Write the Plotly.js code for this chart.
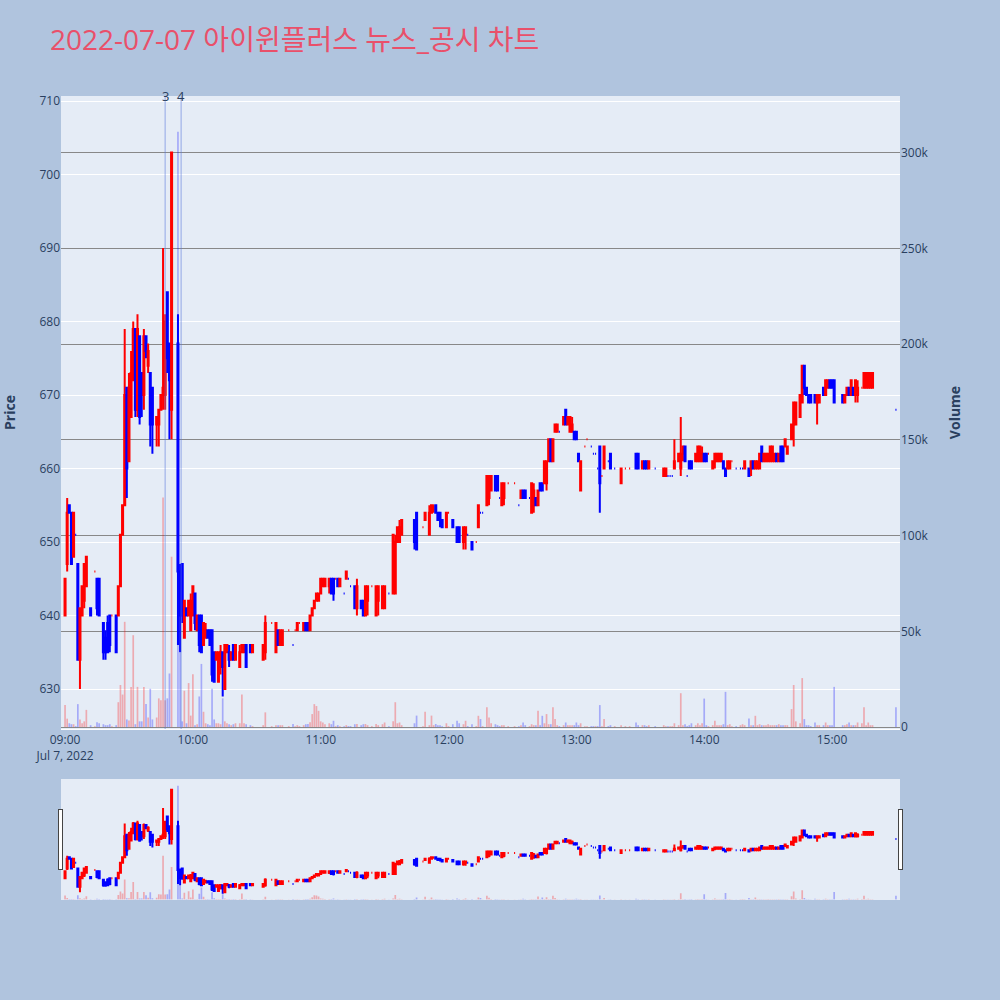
<!DOCTYPE html>
<html>
<head>
<meta charset="utf-8">
<script src="https://cdn.plot.ly/plotly-3.0.1.min.js"></script>
<style>html,body{margin:0;padding:0;background:#b0c4de;}#chart{width:1000px;height:1000px;}</style>
</head>
<body>
<div id="chart"></div>
<script>
const tradeDate = '2022-07-07';
const times = ['09:00','09:01','09:02','09:03','09:04','09:05','09:06','09:07','09:08','09:09','09:10','09:12','09:14','09:15','09:16','09:18','09:19','09:20','09:21','09:22','09:24','09:25','09:26','09:27','09:28','09:29','09:30','09:31','09:32','09:33','09:34','09:35','09:36','09:37','09:38','09:39','09:40','09:41','09:43','09:44','09:45','09:46','09:47','09:48','09:49','09:50','09:53','09:54','09:55','09:56','09:57','09:58','09:59',
'10:00','10:01','10:02','10:03','10:04','10:05','10:06','10:07','10:08','10:09','10:10','10:11','10:12','10:13','10:14','10:15','10:16','10:17','10:18','10:19','10:20','10:22','10:23','10:24','10:25','10:27','10:28','10:33','10:34','10:37','10:39','10:40','10:41','10:42','10:45','10:47','10:48','10:49','10:50','10:52','10:53','10:54','10:55','10:56','10:57','10:58','10:59',
'11:00','11:01','11:02','11:04','11:05','11:06','11:07','11:08','11:09','11:11','11:12','11:13','11:14','11:16','11:17','11:19','11:20','11:21','11:22','11:24','11:26','11:27','11:29','11:30','11:32','11:34','11:35','11:36','11:37','11:38','11:44','11:45','11:48','11:49','11:51','11:52','11:53','11:54','11:55','11:56','11:57','11:59',
'12:00','12:02','12:04','12:05','12:07','12:08','12:09','12:11','12:13','12:14','12:15','12:16','12:18','12:19','12:20','12:22','12:23','12:24','12:25','12:26','12:28','12:31','12:33','12:34','12:35','12:36','12:38','12:39','12:40','12:41','12:42','12:43','12:44','12:45','12:46','12:47','12:48','12:49','12:50','12:51','12:52','12:54','12:55','12:56','12:57','12:58','12:59',
'13:00','13:01','13:02','13:04','13:05','13:07','13:08','13:09','13:10','13:11','13:12','13:13','13:15','13:16','13:18','13:21','13:23','13:25','13:28','13:29','13:31','13:32','13:33','13:34','13:37','13:41','13:42','13:43','13:44','13:45','13:46','13:48','13:49','13:50','13:51','13:52','13:53','13:54','13:56','13:57','13:58','13:59',
'14:00','14:01','14:02','14:04','14:05','14:06','14:07','14:08','14:09','14:10','14:11','14:12','14:13','14:15','14:17','14:18','14:19','14:21','14:22','14:23','14:24','14:25','14:26','14:27','14:28','14:29','14:30','14:31','14:32','14:33','14:34','14:35','14:36','14:37','14:38','14:39','14:41','14:42','14:43','14:45','14:46','14:47','14:48','14:49','14:50','14:52','14:53','14:54','14:56','14:57','14:58','14:59',
'15:00','15:01','15:05','15:06','15:07','15:08','15:09','15:10','15:11','15:12','15:14','15:15','15:16','15:17','15:18','15:19','15:30'];
const opens = [640,647,655,654,648,651,647,634,640,642,644,641,646,645,645,639,637,639,640,640,640,640,644,651,655,671,661,667,672,679,668,678,673,670,678,674,673,671,666,666,668,670,670,684,677,668,677,646,647,637,641,640,638,
640,643,638,640,640,636,637,638,638,638,635,634,631,633,635,630,635,635,634,636,634,633,635,635,636,636,635,634,635,639,635,638,636,636,638,636,638,638,639,638,639,639,638,640,641,642,642,
643,644,644,644,645,645,645,645,644,643,645,645,644,644,641,642,642,640,642,644,640,642,641,641,643,643,643,650,650,651,653,654,652,653,651,654,655,655,654,654,653,652,
654,653,652,652,650,651,651,650,650,652,654,654,655,656,657,659,659,656,655,656,658,658,655,656,657,657,656,654,655,656,655,658,658,658,658,661,664,661,665,665,665,666,668,666,665,665,665,
665,662,657,663,664,663,662,662,660,663,659,660,661,662,660,658,660,660,662,662,660,661,661,660,660,659,659,659,659,659,660,661,660,662,663,659,661,661,661,661,661,661,
662,662,662,660,661,661,661,661,661,660,660,660,661,660,660,660,660,660,660,661,660,660,660,663,661,661,661,661,661,661,662,661,663,663,663,662,664,666,666,667,669,674,671,670,670,670,669,669,671,670,671,672,
672,672,670,669,670,671,670,671,670,670,671,671,671,671,671,671,668];
const highs = [645,656,655,654,654,651,647,641,644,647,648,641,646,645,645,639,638,640,640,640,640,644,651,655,679,671,673,676,680,679,681,678,673,679,678,677,673,671,667,668,670,690,681,684,677,703,681,647,647,642,641,642,643,
644,643,640,640,640,639,639,638,638,638,635,635,635,636,635,636,636,636,635,636,636,636,636,636,636,636,636,636,640,639,639,638,638,638,638,636,638,639,639,639,639,639,640,641,642,643,643,
645,645,645,645,645,645,645,645,645,643,646,645,644,644,645,642,642,644,644,644,644,644,644,644,643,651,651,652,653,653,653,654,652,654,655,655,655,655,654,654,653,654,
654,653,652,652,652,652,651,650,650,655,654,654,659,659,659,659,659,656,658,658,658,658,655,657,657,657,656,658,658,656,657,658,658,661,661,664,664,664,666,666,665,667,668,667,667,667,665,
665,662,661,663,664,663,662,662,660,663,659,663,661,662,660,660,660,660,662,662,661,661,661,661,660,660,660,659,659,659,664,662,667,663,663,659,661,661,662,663,663,663,
662,662,662,661,662,662,662,662,661,660,661,661,661,660,660,660,661,660,661,661,661,661,662,663,662,662,662,663,663,662,662,662,663,663,664,663,666,669,669,670,674,674,671,670,670,670,670,670,671,672,672,672,
672,672,670,670,671,671,672,671,672,672,671,673,673,673,673,673,668];
const lows = [640,646,654,647,648,651,634,630,640,641,644,640,646,640,640,634,634,635,635,640,635,640,644,651,655,656,661,667,672,667,667,666,667,668,675,673,663,662,663,663,668,668,668,673,664,664,636,635,639,637,640,640,638,
640,638,638,635,635,636,637,637,636,631,631,634,631,632,629,630,635,633,634,634,634,633,635,635,633,635,635,634,634,639,635,636,636,636,638,636,638,638,639,638,638,638,638,640,641,642,642,
643,644,644,643,643,642,645,644,644,643,645,645,644,641,640,641,640,640,640,644,640,640,641,641,643,643,643,650,650,651,649,649,652,653,651,654,654,654,653,652,652,652,
654,652,650,650,649,649,651,649,650,652,654,654,655,655,657,657,657,656,655,655,658,658,655,656,656,656,656,654,654,655,655,657,657,658,657,661,661,661,665,665,665,666,666,666,665,665,664,
664,661,657,663,664,663,662,662,660,654,659,660,661,660,660,658,660,660,660,660,660,660,660,660,660,659,659,659,659,659,660,661,659,661,661,659,660,660,661,661,661,661,
661,661,662,660,660,661,661,661,660,659,660,660,661,660,660,660,660,659,659,660,660,660,660,661,661,661,661,661,661,661,661,661,661,661,663,662,664,663,666,667,669,670,670,669,669,669,666,669,670,670,671,671,
671,669,669,669,670,670,670,670,669,669,671,671,671,671,671,671,668];
const closes = [645,654,654,647,654,651,634,641,644,647,648,640,646,641,640,635,635,635,636,640,635,644,651,655,670,660,671,673,679,668,679,667,670,678,676,676,666,666,667,668,670,671,680,675,672,703,646,640,640,642,640,642,642,
644,639,640,636,635,639,638,637,636,632,631,635,635,635,633,636,636,634,635,634,636,635,636,636,633,635,636,636,639,639,639,636,638,638,638,636,638,639,639,639,638,638,640,641,642,643,643,
645,645,645,645,643,643,645,644,645,643,646,645,644,641,644,641,640,644,644,644,644,644,644,644,643,651,650,652,652,653,650,649,652,654,654,655,655,654,653,653,652,654,
654,652,650,650,652,652,651,649,650,655,654,654,659,659,659,657,657,656,658,658,658,658,655,657,656,656,656,658,657,655,657,657,657,661,661,664,661,664,666,666,665,667,666,667,667,666,664,
664,661,661,663,664,663,662,662,660,658,659,663,661,660,660,660,660,660,660,660,661,660,660,661,660,660,660,659,659,659,661,662,662,663,661,659,660,660,662,663,663,662,
661,661,662,661,662,662,662,662,660,659,661,661,661,660,660,660,661,659,661,660,661,661,662,661,662,662,662,663,663,662,661,662,661,661,664,663,666,669,669,670,674,671,670,669,669,669,670,670,670,672,672,671,
671,669,669,670,671,670,672,670,672,671,671,673,673,673,673,673,668];
const volumes = [11500,4400,2000,1500,1500,500,12000,4000,2000,3000,9000,1000,500,2500,2000,1500,1000,1000,1500,500,1000,13000,22000,17000,55000,4000,3500,21000,48000,1500,21000,3000,3000,21000,12000,5000,20000,4000,5000,15000,14000,120000,14000,15000,28000,89000,311000,39000,3000,19000,2000,23000,6000,
27600,1000,1500,16000,33000,8000,2000,1500,1000,20000,4000,2000,2000,1500,15000,3000,2000,1500,1000,1500,2000,2000,17000,2000,1500,1000,500,1000,7700,500,1000,1000,1000,1000,500,1600,500,1000,500,1000,1500,1600,2500,6800,12000,11000,8500,
3000,2400,1500,2000,1500,3300,500,1000,500,500,1000,500,500,1500,1600,1000,1500,1600,1000,500,1600,1000,1500,2400,500,3000,13000,2000,2400,1000,2000,6000,500,8000,1000,6000,1000,1600,1000,1000,500,2000,
500,1500,3300,2000,1500,3300,500,1500,500,5900,4200,500,10300,5000,2000,1500,1000,500,1000,1000,500,500,500,1000,2400,1000,500,1500,1000,1000,8500,1000,5900,2000,6800,1500,1500,10300,4200,1000,500,1000,2400,1000,1000,1000,1000,
2400,1000,2000,500,500,500,500,500,500,11500,500,4200,500,1000,500,1000,500,500,2400,1000,1000,1000,500,1000,500,1000,500,500,500,500,2000,1000,17700,1000,1500,500,1000,2000,1000,2000,1000,2000,
14900,1000,500,1000,3300,1000,1000,1000,1500,18400,1000,1500,500,500,1000,1500,1000,4500,1000,1000,5900,1000,1500,1000,1000,1000,1500,1000,1000,1000,1000,1500,1000,1000,1000,1000,9400,22000,3000,2000,25600,4200,1000,1000,500,2400,1000,1000,1000,2400,1000,1000,
1000,21000,1000,1000,1500,2400,1000,1000,1000,2400,2000,10300,1000,2400,1000,1000,10300];
const newsLabels = ['3','4'];
const newsTimes = ['09:47:00','09:54:30'];

const xs = times.map(t => tradeDate + ' ' + t);
const volColors = [];
let prevClose = null;
for (let i = 0; i < opens.length; i++) {
  let up;
  if (closes[i] > opens[i]) up = true;
  else if (closes[i] < opens[i]) up = false;
  else up = prevClose === null ? true : closes[i] >= prevClose;
  volColors.push(up ? 'rgba(255,0,0,0.28)' : 'rgba(0,0,255,0.28)');
  prevClose = closes[i];
}

const candle = {
  type: 'candlestick', x: xs, open: opens, high: highs, low: lows, close: closes,
  increasing: {line: {color: '#ff0000', width: 2}, fillcolor: '#ff0000'},
  decreasing: {line: {color: '#0000ff', width: 2}, fillcolor: '#0000ff'},
  name: 'Price', showlegend: false, yaxis: 'y'
};
const vol = {
  type: 'bar', x: xs, y: volumes, marker: {color: volColors, line: {width: 0}},
  name: 'Volume', showlegend: false, yaxis: 'y2'
};

const shapes = newsTimes.map(t => ({
  type: 'line', xref: 'x', yref: 'paper', x0: tradeDate + ' ' + t, x1: tradeDate + ' ' + t, y0: 0, y1: 1,
  line: {color: 'rgba(90,120,220,0.4)', width: 1.5}
}));
const annotations = newsTimes.map((t, i) => ({
  x: tradeDate + ' ' + t, xref: 'x', y: 1, yref: 'paper', yanchor: 'middle', text: newsLabels[i],
  showarrow: false, font: {size: 13, color: '#2a3f5f'}
}));

const layout = {
  width: 1000, height: 1000,
  paper_bgcolor: '#b0c4de', plot_bgcolor: '#e5ecf6',
  font: {family: '"Open Sans", "Noto Sans CJK KR", sans-serif', color: '#2a3f5f', size: 12},
  title: {text: '2022-07-07 아이윈플러스 뉴스_공시 차트', x: 0.05, xanchor: 'left', y: 0.96, yanchor: 'middle',
          font: {size: 28, color: '#e9506a', family: '"Open Sans", "Noto Sans CJK KR", sans-serif'}},
  margin: {l: 61, r: 100, t: 96, b: 100},
  showlegend: false,
  bargap: 0.2,
  xaxis: {
    type: 'date', range: ['2022-07-07 08:58:06', '2022-07-07 15:31:54'],
    showgrid: false, zeroline: false, linecolor: 'white',
    rangeslider: {visible: true, thickness: 0.15}
  },
  yaxis: {
    title: {text: 'Price', font: {size: 14, weight: 'bold'}, standoff: 22},
    range: [624.57, 710.68], gridcolor: 'white', zeroline: false, side: 'left',
    dtick: 10
  },
  yaxis2: {
    title: {text: 'Volume', font: {size: 14, weight: 'bold'}, standoff: 22},
    overlaying: 'y', side: 'right', range: [-1000, 329700],
    showgrid: true, gridcolor: '#888888', gridwidth: 1, zeroline: false, dtick: 50000
  },
  shapes: shapes,
  annotations: annotations
};

Plotly.newPlot('chart', [candle, vol], layout, {displayModeBar: false});
</script>
</body>
</html>
